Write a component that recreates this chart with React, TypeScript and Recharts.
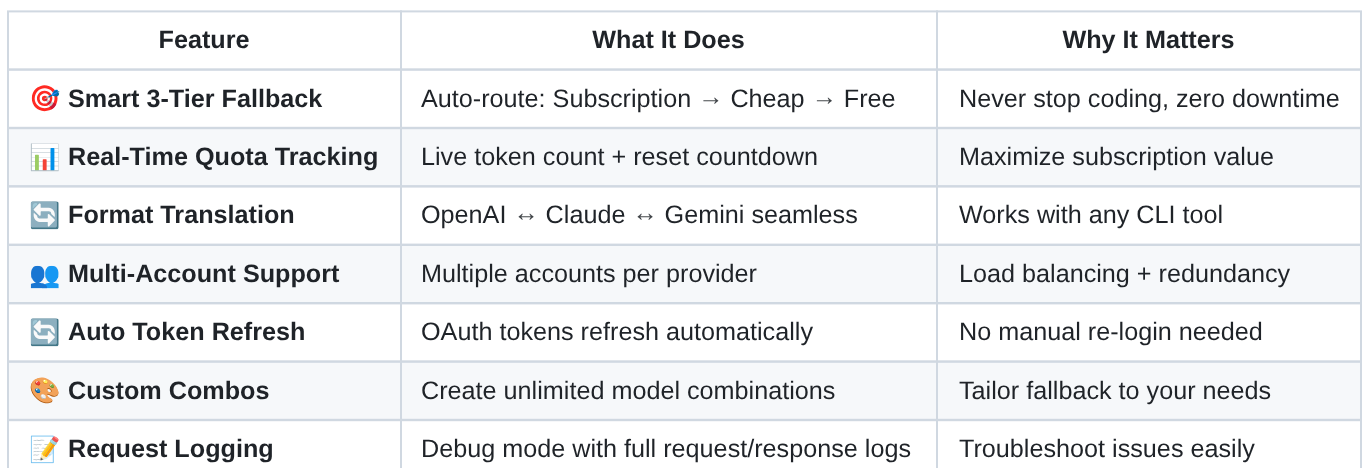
import React from "react";
import { BarChart, Bar, XAxis, YAxis } from "recharts";

const headers = ["Feature", "What It Does", "Why It Matters"];
const icons = ["🎯", "📊", "🔄", "👥", "🔄", "🎨", "📝"];
const features = ["Smart 3-Tier Fallback", "Real-Time Quota Tracking", "Format Translation", "Multi-Account Support", "Auto Token Refresh", "Custom Combos", "Request Logging"];
const whatItDoes = ["Auto-route: Subscription → Cheap → Free", "Live token count + reset countdown", "OpenAI ↔ Claude ↔ Gemini seamless", "Multiple accounts per provider", "OAuth tokens refresh automatically", "Create unlimited model combinations", "Debug mode with full request/response logs"];
const whyItMatters = ["Never stop coding, zero downtime", "Maximize subscription value", "Works with any CLI tool", "Load balancing + redundancy", "No manual re-login needed", "Tailor fallback to your needs", "Troubleshoot issues easily"];
const columnSpans = [393, 536, 424];

const rows = [
  { id: "header", icon: "", cells: headers },
  ...features.map((f, i) => ({ id: f, icon: icons[i], cells: [f, whatItDoes[i], whyItMatters[i]] })),
].map((r) => ({ ...r, a: columnSpans[0], b: columnSpans[1], c: columnSpans[2] }));

const FONT = "'Liberation Sans', Arial, sans-serif";
const INK = "#1f2328";
const LINE = "#d0d8e1";
const SIZE = 25.2;
const PAD = [60, 20, 22];
const ARROW_LIFT = 2;

const withLiftedArrows = (s: string) => {
  const parts = s.split(/([→↔])/);
  let lifted = false;
  return parts.map((part, i) => {
    const isArrow = part === "→" || part === "↔";
    const dy = isArrow ? -ARROW_LIFT : lifted ? ARROW_LIFT : 0;
    lifted = isArrow;
    return <tspan key={i} dy={dy} fillOpacity={isArrow ? 0.85 : 1}>{part}</tspan>;
  });
};

const cell = (col: number) => (p: any) => {
  const { x, y, width, height, payload, index } = p;
  const isHeader = index === 0;
  const bold = isHeader || col === 0;
  const fill = !isHeader && index % 2 === 0 ? "#f6f8fa" : "#ffffff";
  const cy = y + height / 2 + 7.8;
  return (
    <g>
      <rect x={x} y={y} width={width} height={height} fill={fill} stroke={LINE} strokeWidth={2} />
      {isHeader ? (
        <text x={x + width / 2 - 0.5} y={cy} textAnchor="middle" textRendering="geometricPrecision" fontFamily={FONT} fontSize={SIZE} fontWeight={700} fill={INK}>{payload.cells[col]}</text>
      ) : (
        <>
          {col === 0 && <text x={x + 21} y={cy + 0.7} fontSize={25.2} fontFamily={FONT}>{payload.icon}</text>}
          <text x={x + PAD[col]} y={cy} textRendering="geometricPrecision" fontFamily={FONT} fontSize={SIZE} fontWeight={bold ? 700 : 400} fill={INK}>{withLiftedArrows(payload.cells[col])}</text>
        </>
      )}
    </g>
  );
};

export default function App() {
  return (
    <div style={{ position: "absolute", left: 0, top: 0, width: 1362, height: 468, overflow: "hidden", background: "#fff", filter: "blur(0.3px)" }}>
      <BarChart width={1362} height={490} data={rows} layout="vertical" barCategoryGap={0} margin={{ left: 8, right: 1, top: 11.4, bottom: 11.4 }}>
        <XAxis type="number" hide domain={[0, 1353]} />
        <YAxis type="category" dataKey="id" hide />
        <Bar dataKey="a" stackId="t" isAnimationActive={false} shape={cell(0)} />
        <Bar dataKey="b" stackId="t" isAnimationActive={false} shape={cell(1)} />
        <Bar dataKey="c" stackId="t" isAnimationActive={false} shape={cell(2)} />
      </BarChart>
    </div>
  );
}
